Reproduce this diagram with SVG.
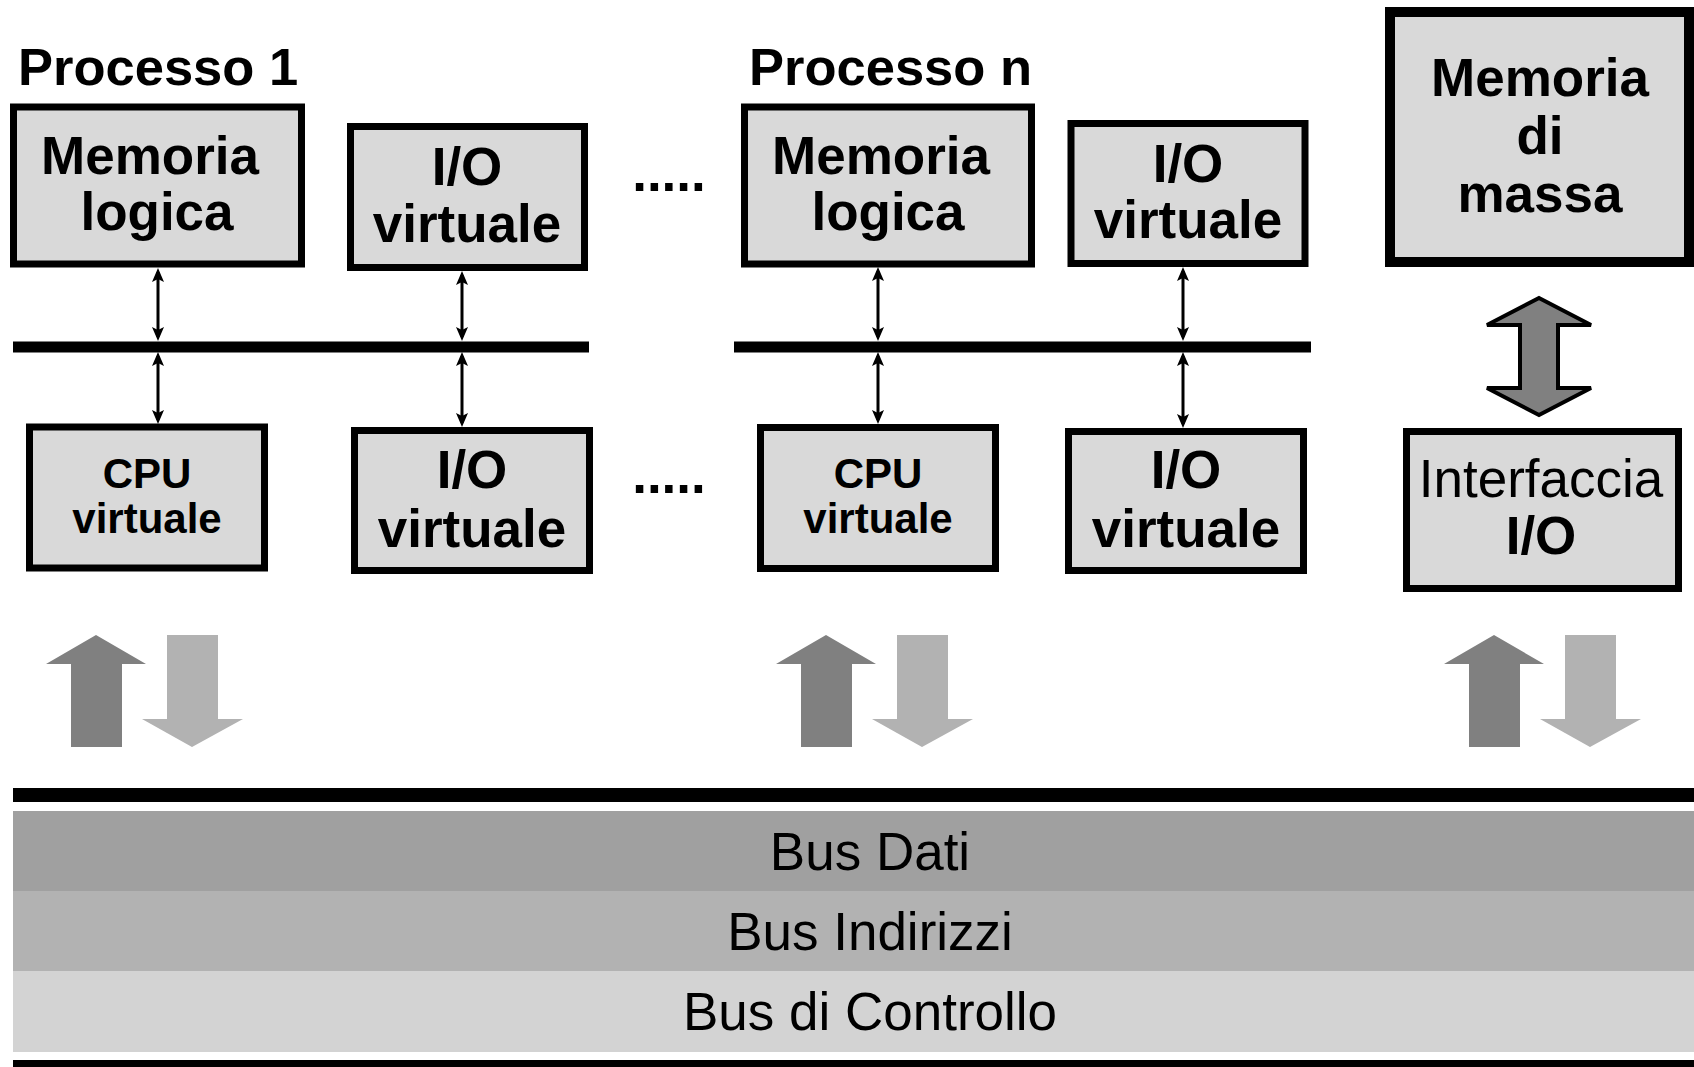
<svg xmlns="http://www.w3.org/2000/svg" width="1694" height="1067" viewBox="0 0 1694 1067">
<style>
.box{fill:#d9d9d9;stroke:#000;stroke-width:7}
.big{fill:#d9d9d9;stroke:#000;stroke-width:10}
.t{font-family:"Liberation Sans",Arial,sans-serif;font-weight:bold;font-size:53px;text-anchor:middle;fill:#000}
.s{font-family:"Liberation Sans",Arial,sans-serif;font-weight:bold;font-size:42px;text-anchor:middle;fill:#000}
.r{font-family:"Liberation Sans",Arial,sans-serif;font-weight:normal;font-size:53px;text-anchor:middle;fill:#000}
.h{font-family:"Liberation Sans",Arial,sans-serif;font-weight:bold;font-size:52.5px;fill:#000}
.bus{font-family:"Liberation Sans",Arial,sans-serif;font-size:53px;text-anchor:middle;fill:#000}
.ln{stroke:#000;stroke-width:3;fill:none;marker-start:url(#ah);marker-end:url(#ah)}
.up{fill:#808080}
.dn{fill:#b2b2b2}
</style>
<defs>
<marker id="ah" markerUnits="userSpaceOnUse" markerWidth="14" markerHeight="12" viewBox="0 0 14 12" refX="10" refY="6" orient="auto-start-reverse">
<path d="M0,0 L14,6 L0,12 L3,6 z" fill="#000"/>
</marker>
<g id="pair">
<path class="up" d="M96,635 L146,664 L122,664 L122,747 L71,747 L71,664 L46,664 z"/>
<path class="dn" d="M167,635 L218,635 L218,719 L243,719 L192,747 L142,719 L167,719 z"/>
</g>
</defs>
<rect width="1694" height="1067" fill="#fff"/>

<g id="labels">
<text class="h" x="18" y="85">Processo 1</text>
<text class="h" x="749" y="85">Processo n</text>
<text class="t" x="669" y="191">.....</text>
<text class="t" x="669" y="493">.....</text>
</g>

<g id="mem1">
<rect class="box" x="13.5" y="107" width="288" height="157"/>
<text class="t" x="150" y="174">Memoria</text>
<text class="t" x="157" y="230">logica</text>
</g>
<g id="io1top">
<rect class="box" x="350.5" y="126.5" width="234" height="141"/>
<text class="t" x="467" y="185">I/O</text>
<text class="t" x="467" y="242">virtuale</text>
</g>
<g id="memn">
<rect class="box" x="744.5" y="107" width="287" height="157"/>
<text class="t" x="881" y="174">Memoria</text>
<text class="t" x="888" y="230">logica</text>
</g>
<g id="iontop">
<rect class="box" x="1071" y="123.5" width="234" height="140"/>
<text class="t" x="1188" y="182">I/O</text>
<text class="t" x="1188" y="238">virtuale</text>
</g>
<g id="massa">
<rect class="big" x="1390" y="12" width="299" height="250"/>
<text class="t" x="1540" y="96">Memoria</text>
<text class="t" x="1540" y="154">di</text>
<text class="t" x="1540" y="212">massa</text>
</g>

<g id="cpu1">
<rect class="box" x="29.5" y="427" width="235" height="141"/>
<text class="s" x="147" y="488">CPU</text>
<text class="s" x="147" y="533">virtuale</text>
</g>
<g id="io1bot">
<rect class="box" x="354.5" y="430.5" width="235" height="140"/>
<text class="t" x="472" y="488">I/O</text>
<text class="t" x="472" y="547">virtuale</text>
</g>
<g id="cpun">
<rect class="box" x="760.5" y="427.5" width="235" height="141"/>
<text class="s" x="878" y="488">CPU</text>
<text class="s" x="878" y="533">virtuale</text>
</g>
<g id="ionbot">
<rect class="box" x="1068.5" y="431.5" width="235" height="139"/>
<text class="t" x="1186" y="488">I/O</text>
<text class="t" x="1186" y="547">virtuale</text>
</g>
<g id="interfaccia">
<rect class="box" x="1406.5" y="431.5" width="272" height="157"/>
<text class="r" x="1541" y="497">Interfaccia</text>
<text class="t" x="1541" y="554">I/O</text>
</g>

<g id="connectors">
<rect x="13" y="341.5" width="576" height="11" fill="#000"/>
<rect x="734" y="341.5" width="577" height="11" fill="#000"/>
<line class="ln" x1="158" y1="272" x2="158" y2="337"/>
<line class="ln" x1="158" y1="356" x2="158" y2="420"/>
<line class="ln" x1="462" y1="275" x2="462" y2="337"/>
<line class="ln" x1="462" y1="356" x2="462" y2="423"/>
<line class="ln" x1="878" y1="271" x2="878" y2="337"/>
<line class="ln" x1="878" y1="356" x2="878" y2="420"/>
<line class="ln" x1="1183" y1="271" x2="1183" y2="337"/>
<line class="ln" x1="1183" y1="356" x2="1183" y2="424"/>
<path d="M1539,298 L1591,325 L1558,325 L1558,388 L1591,388 L1539,415 L1487,388 L1520,388 L1520,325 L1487,325 z" fill="#808080" stroke="#000" stroke-width="4"/>
<use href="#pair"/>
<use href="#pair" x="730"/>
<use href="#pair" x="1398"/>
</g>

<g id="bus">
<rect x="13" y="788" width="1681" height="14" fill="#000"/>
<rect x="13" y="811" width="1681" height="80" fill="#a0a0a0"/>
<rect x="13" y="891" width="1681" height="80" fill="#b2b2b2"/>
<rect x="13" y="971" width="1681" height="81" fill="#d3d3d3"/>
<rect x="13" y="1060" width="1681" height="7" fill="#000"/>
<text class="bus" x="870" y="870">Bus Dati</text>
<text class="bus" x="870" y="950">Bus Indirizzi</text>
<text class="bus" x="870" y="1030">Bus di Controllo</text>
</g>
</svg>
